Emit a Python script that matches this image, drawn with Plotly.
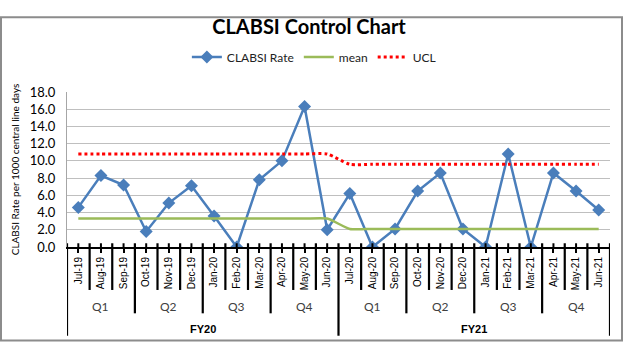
import plotly.graph_objects as go

months = ["Jul-19", "Aug-19", "Sep-19", "Oct-19", "Nov-19", "Dec-19",
          "Jan-20", "Feb-20", "Mar-20", "Apr-20", "May-20", "Jun-20",
          "Jul-20", "Aug-20", "Sep-20", "Oct-20", "Nov-20", "Dec-20",
          "Jan-21", "Feb-21", "Mar-21", "Apr-21", "May-21", "Jun-21"]
quarters = ["Q1", "Q2", "Q3", "Q4"]
fiscal_years = ["FY20", "FY21"]

clabsi_rate = [4.6, 8.3, 7.2, 1.8, 5.1, 7.1, 3.6, 0.0, 7.8, 10.0, 16.3, 2.0,
               6.2, 0.0, 2.1, 6.5, 8.6, 2.1, 0.0, 10.8, 0.0, 8.6, 6.5, 4.3]
mean_vals = [3.3, 3.3, 3.3, 3.3, 3.3, 3.3, 3.3, 3.3, 3.3, 3.3, 3.3, 3.3,
             2.1, 2.1, 2.1, 2.1, 2.1, 2.1, 2.1, 2.1, 2.1, 2.1, 2.1, 2.1]
ucl_vals = [10.8, 10.8, 10.8, 10.8, 10.8, 10.8, 10.8, 10.8, 10.8, 10.8, 10.8, 10.8,
            9.6, 9.6, 9.6, 9.6, 9.6, 9.6, 9.6, 9.6, 9.6, 9.6, 9.6, 9.6]

W, H = 624, 350
L, R, T, B = 67, 14, 81, 103
PH = H - T - B  # plot height in px
PW = W - L - R


def py(pix):
    """convert a pixel row to paper y"""
    return (H - B - pix) / PH


def px(pix):
    return (pix - L) / PW


fig = go.Figure()
fig.add_trace(go.Scatter(
    x=months, y=clabsi_rate, name="CLABSI Rate", mode="lines+markers",
    line=dict(color="#4A7EBB", width=2.5),
    marker=dict(symbol="diamond", size=10, color="#4A7EBB"),
))
fig.add_trace(go.Scatter(
    x=months, y=mean_vals, name="mean", mode="lines",
    line=dict(color="#9BBB59", width=2.5, shape="spline", smoothing=0.6),
))
fig.add_trace(go.Scatter(
    x=months, y=ucl_vals, name="UCL", mode="lines",
    line=dict(color="#FF0000", width=3, dash="dot", shape="spline", smoothing=0.6),
))

shapes = []
n = len(months)
for b in range(n + 1):
    if b % 12 == 0:
        yend = 342
    elif b % 3 == 0:
        yend = 318
    else:
        yend = 293
    shapes.append(dict(type="line", xref="x", yref="paper",
                       x0=b - 0.5, x1=b - 0.5, y0=py(243), y1=py(yend),
                       line=dict(color="black", width=2.2)))
# small tick marks crossing above the axis at category centres
for i in range(n):
    shapes.append(dict(type="line", xref="x", yref="paper",
                       x0=i, x1=i, y0=py(243), y1=py(247),
                       line=dict(color="black", width=2)))
# outer frame
shapes.append(dict(type="rect", xref="paper", yref="paper",
                   x0=px(1), x1=px(622), y0=py(1), y1=py(347),
                   line=dict(color="#8C8C8C", width=2), fillcolor="rgba(0,0,0,0)",
                   layer="below"))

annotations = []
for f, fy in enumerate(fiscal_years):
    for q, qt in enumerate(quarters):
        annotations.append(dict(
            x=f * 12 + q * 3 + 1, y=py(311), xref="x", yref="paper",
            text=qt, showarrow=False, xanchor="center", yanchor="middle",
            font=dict(family="Lato", size=12, color="#404040")))
    annotations.append(dict(
        x=f * 12 + 5.5, y=py(335), xref="x", yref="paper",
        text="<b>" + fy + "</b>", showarrow=False, xanchor="center", yanchor="middle",
        font=dict(family="Liberation Sans", size=11, color="black")))

fig.update_layout(
    width=W, height=H,
    margin=dict(l=L, r=R, t=T, b=B),
    paper_bgcolor="white", plot_bgcolor="white",
    title=dict(text="<b>CLABSI Control Chart</b>", x=309 / W, xref="container",
               xanchor="center", y=1 - 27 / H, yanchor="middle", yref="container",
               font=dict(family="Lato", size=20, color="black")),
    legend=dict(orientation="h", x=0.503, xanchor="center", xref="container",
                y=1 - 57 / H, yanchor="middle", yref="container",
                font=dict(family="Lato", size=12, color="#222222"),
                itemwidth=30, tracegroupgap=0),
    showlegend=True,
    shapes=shapes,
    annotations=annotations,
)
fig.update_xaxes(
    type="category", range=[-0.5, n - 0.5],
    showline=True, linecolor="black", linewidth=2,
    ticks="outside", ticklen=4, tickwidth=2, tickcolor="black",
    tickangle=-90, tickfont=dict(family="Liberation Sans", size=10, color="black"),
    showgrid=False, zeroline=False,
)
fig.update_yaxes(
    range=[0, 18], dtick=2, tickformat=".1f",
    showgrid=True, gridcolor="#BFBFBF", gridwidth=1,
    showline=True, linecolor="#A6A6A6", linewidth=1,
    zeroline=False, ticks="", ticklabelstandoff=8,
    tickfont=dict(family="Lato", size=13, color="black"),
    title=dict(text="CLABSI Rate per 1000 central line days",
               font=dict(family="Lato", size=10, color="black"), standoff=8),
)

fig.write_html("out.html")
